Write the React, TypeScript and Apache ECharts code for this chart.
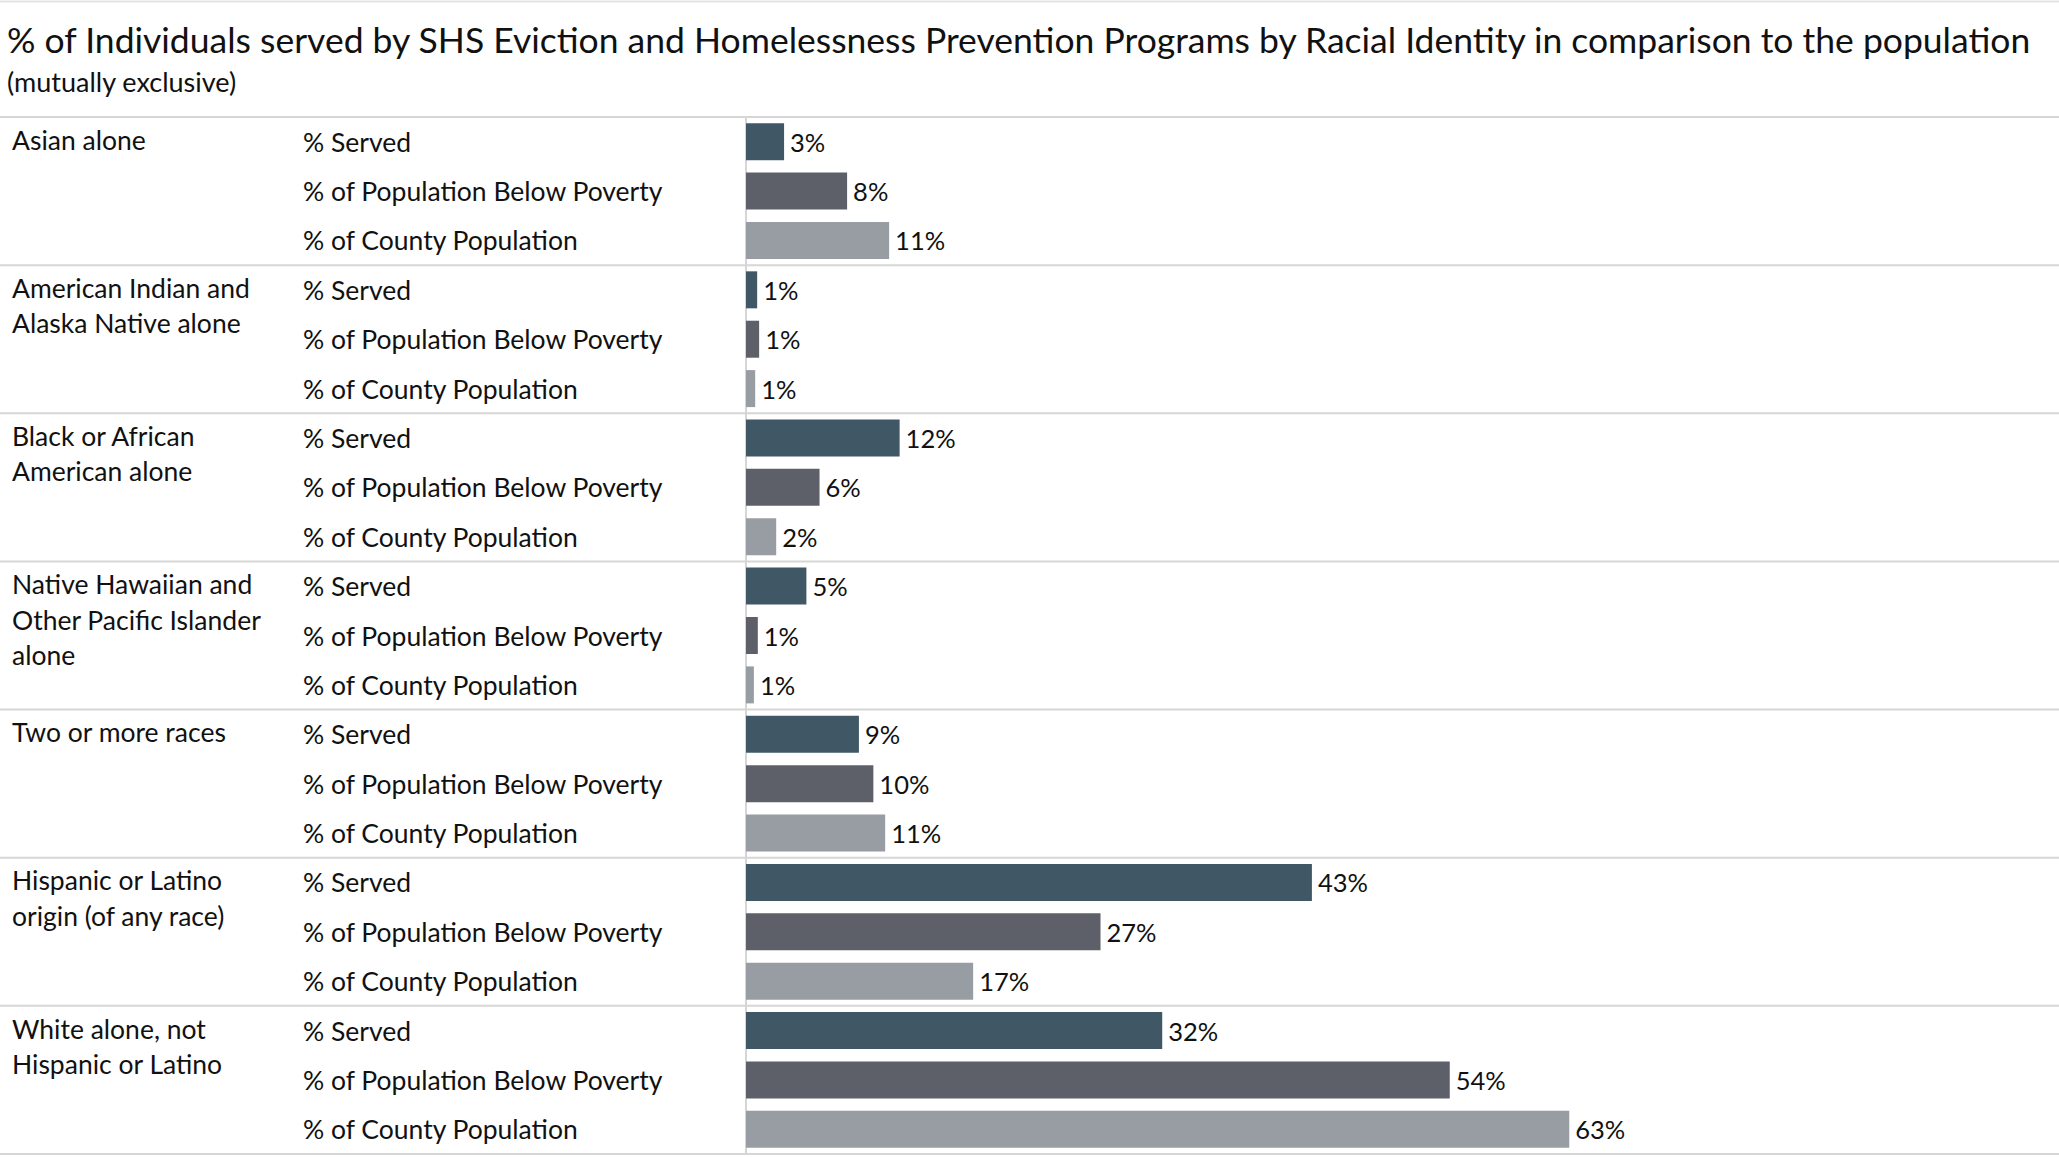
import React, { useEffect, useRef } from "react";
import * as echarts from "echarts";

const titleText =
  "% of Individuals served by SHS Eviction and Homelessness Prevention Programs by Racial Identity in comparison to the population";
const subtitleText = "(mutually exclusive)";

const groups = [
  "Asian alone",
  "American Indian and\nAlaska Native alone",
  "Black or African\nAmerican alone",
  "Native Hawaiian and\nOther Pacific Islander\nalone",
  "Two or more races",
  "Hispanic or Latino\norigin (of any race)",
  "White alone, not\nHispanic or Latino",
];
const measures = ["% Served", "% of Population Below Poverty", "% of County Population"];

const served = [2.9, 0.85, 11.7, 4.6, 8.6, 43.1, 31.7];
const poverty = [7.7, 1.0, 5.6, 0.9, 9.7, 27.0, 53.6];
const county = [10.9, 0.7, 2.3, 0.6, 10.6, 17.3, 62.7];

const colors = ["#405866", "#5D6069", "#989CA3"];
const FONT = "Lato";
const LINE_COLOR = "#D6D6D6";

export default function App() {
  const ref = useRef<HTMLDivElement>(null);

  useEffect(() => {
    if (!ref.current) return;
    const chart = echarts.init(ref.current, undefined, { renderer: "svg" });

    const rows: string[] = [];
    groups.forEach((_, gi) => measures.forEach((m) => rows.push(`${gi}|${m}`)));

    const seriesValues = [served, poverty, county];
    const series = measures.map((m, mi) => ({
      name: m,
      type: "bar",
      barWidth: 37,
      barGap: "-100%",
      itemStyle: { color: colors[mi] },
      label: {
        show: true,
        position: "right",
        distance: 6,
        fontFamily: FONT,
        fontSize: 25.5,
        color: "#111",
        formatter: (p: any) => `${Math.round(p.value)}%`,
      },
      data: rows.map((_, ri) =>
        ri % 3 === mi ? seriesValues[mi][Math.floor(ri / 3)] : "-"
      ),
    }));

    const option: any = {
      animation: false,
      backgroundColor: "#ffffff",
      title: {
        text: titleText,
        subtext: subtitleText,
        left: 7,
        top: 20,
        padding: 0,
        itemGap: 8,
        textStyle: {
          fontFamily: FONT,
          fontSize: 35.5,
          fontWeight: "normal",
          color: "#111",
          lineHeight: 38,
        },
        subtextStyle: {
          fontFamily: FONT,
          fontSize: 27,
          color: "#111",
          lineHeight: 30,
        },
      },
      grid: { left: 746, right: 0, top: 117, bottom: 3, containLabel: false },
      xAxis: {
        type: "value",
        min: 0,
        max: 100,
        show: false,
      },
      yAxis: {
        type: "category",
        inverse: true,
        data: rows,
        axisLine: { show: true, lineStyle: { color: LINE_COLOR, width: 2 } },
        axisTick: { show: false },
        splitLine: { show: false },
        axisLabel: {
          align: "left",
          margin: 443,
          fontFamily: FONT,
          fontSize: 26.5,
          color: "#111",
          formatter: (v: string) => v.split("|")[1],
        },
      },
      series,
    };

    chart.setOption(option);

    const yOf = (i: number) => chart.convertToPixel({ yAxisIndex: 0 }, i) as number;
    const rowH = yOf(1) - yOf(0);
    const graphics: any[] = [];
    graphics.push({
      type: "line",
      shape: { x1: 0, y1: 1.5, x2: 2059, y2: 1.5 },
      style: { stroke: "#E4E4E4", lineWidth: 2 },
      z: 10,
    });
    for (let g = 0; g <= groups.length; g++) {
      const y = g < groups.length ? yOf(g * 3) - rowH / 2 : yOf(rows.length - 1) + rowH / 2;
      graphics.push({
        type: "line",
        shape: { x1: 0, y1: y, x2: 2059, y2: y },
        style: { stroke: LINE_COLOR, lineWidth: 2 },
        z: 10,
      });
    }
    const groupLH = 35.5;
    groups.forEach((g, gi) => {
      graphics.push({
        type: "text",
        x: 12,
        y: yOf(gi * 3) - groupLH / 2 - 2,
        style: {
          text: g,
          fontFamily: FONT,
          fontSize: 26.5,
          lineHeight: groupLH,
          fill: "#111",
          align: "left",
          verticalAlign: "top",
        },
        z: 10,
      });
    });
    chart.setOption({ graphic: graphics });

    return () => chart.dispose();
  }, []);

  return (
    <div
      ref={ref}
      style={{ position: "fixed", left: 0, top: 0, width: 2059, height: 1157 }}
    />
  );
}
